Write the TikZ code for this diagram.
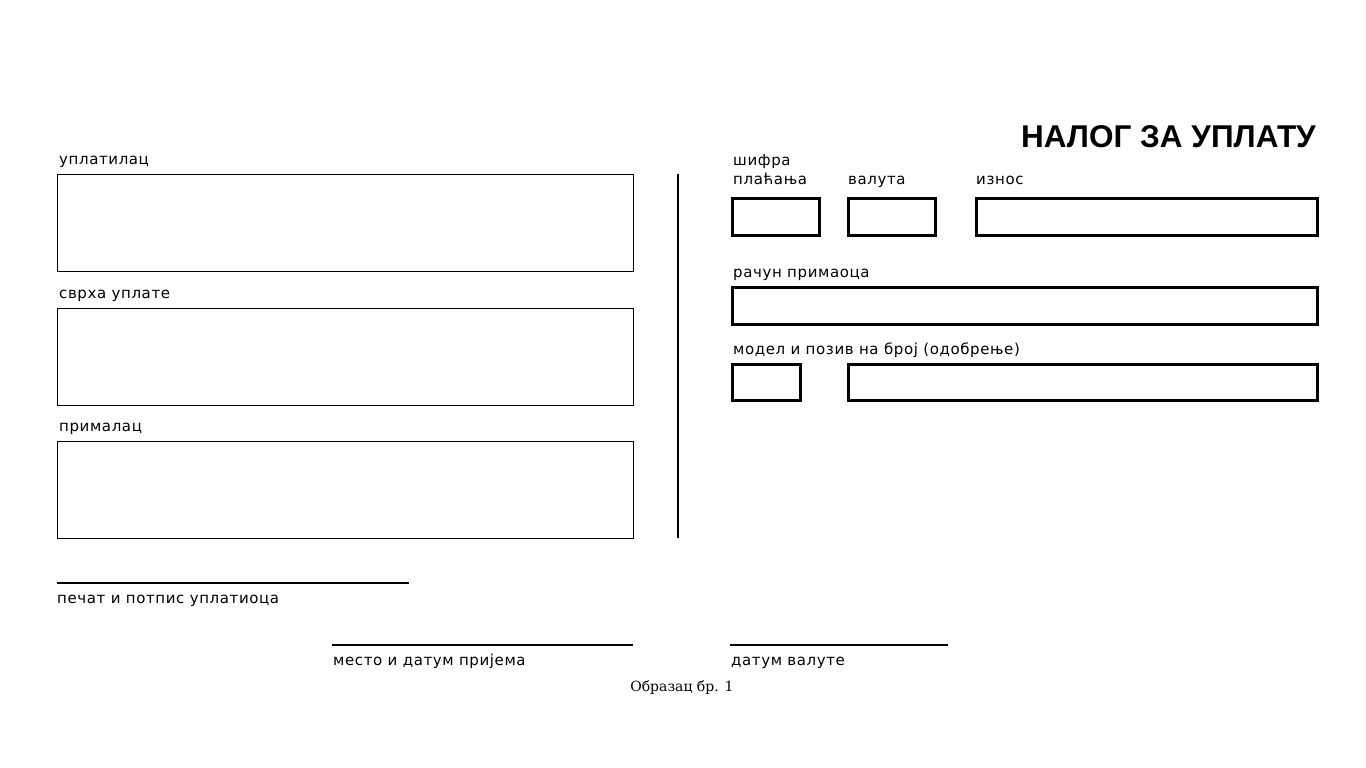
\documentclass[tikz,border=0pt]{standalone}
\usepackage{fontspec}
\setmainfont{DejaVu Sans}[LetterSpace=4]
\newfontfamily\titlefont{Liberation Sans}
\newfontfamily\notefont{DejaVu Serif}
\usepackage{tikz}
\usetikzlibrary{positioning}
\tikzstyle{field} = [draw=black, line width=1.3pt, inner sep=0pt, anchor=north west, minimum width=576pt, minimum height=97pt]
\tikzstyle{cell} = [draw=black, line width=2.6pt, inner sep=0pt, anchor=north west, minimum height=37pt]
\tikzstyle{lbl} = [inner sep=0pt, anchor=base west, font=\fontsize{15}{17}\selectfont]
\tikzstyle{rule} = [line width=1.4pt]

\begin{document}
\begin{tikzpicture}[x=1pt, y=-1pt]
        \useasboundingbox (0,0) rectangle (1366,768);

        % left part
        \node (payer) [field] at (57,174) {};
        \node (purpose) [field] at (57,308) {};
        \node (payee) [field] at (57,441) {};
        \node (lpayer) [lbl] at (59,164) {уплатилац};
        \node (lpurpose) [lbl] at (59,298) {сврха уплате};
        \node (lpayee) [lbl] at (59,431) {прималац};

        \coordinate (sep1) at (678,174);
        \coordinate (sep2) at (678,538);
        \draw [rule] (sep1) -- (sep2);

        % right part
        \node (title) [anchor=base east, inner sep=0pt, font=\titlefont\bfseries\fontsize{31.5}{34}\selectfont] at (1316,147) {НАЛОГ ЗА УПЛАТУ};
        \node (code) [cell, minimum width=87pt] at (731,197) {};
        \node (curr) [cell, minimum width=87pt] at (847,197) {};
        \node (amount) [cell, minimum width=341pt] at (975,197) {};
        \node (account) [cell, minimum width=585pt] at (731,286) {};
        \node (model) [cell, minimum width=68pt, minimum height=36pt] at (731,363) {};
        \node (ref) [cell, minimum width=469pt, minimum height=36pt] at (847,363) {};
        \node (lcode1) [lbl] at (733,165) {шифра};
        \node (lcode2) [lbl] at (733,184) {плаћања};
        \node (lcurr) [lbl] at (848,184) {валута};
        \node (lamount) [lbl] at (976,184) {износ};
        \node (laccount) [lbl] at (733,277) {рачун примаоца};
        \node (lmodel) [lbl] at (733,354) {модел и позив на број (одобрење)};

        % signatures
        \coordinate (s1a) at (57,583);
        \coordinate (s1b) at (409,583);
        \coordinate (s2a) at (332,645);
        \coordinate (s2b) at (633,645);
        \coordinate (s3a) at (730,645);
        \coordinate (s3b) at (948,645);
        \draw [rule] (s1a) -- (s1b);
        \draw [rule] (s2a) -- (s2b);
        \draw [rule] (s3a) -- (s3b);
        \node (lstamp) [lbl] at (57,603) {печат и потпис уплатиоца};
        \node (lplace) [lbl] at (333,665) {место и датум пријема};
        \node (lvalue) [lbl] at (731,665) {датум валуте};
        \node (form) [anchor=base, inner sep=0pt, font=\notefont\fontsize{14}{16}\selectfont] at (682,691) {Образац бр. 1};
\end{tikzpicture}
\end{document}
